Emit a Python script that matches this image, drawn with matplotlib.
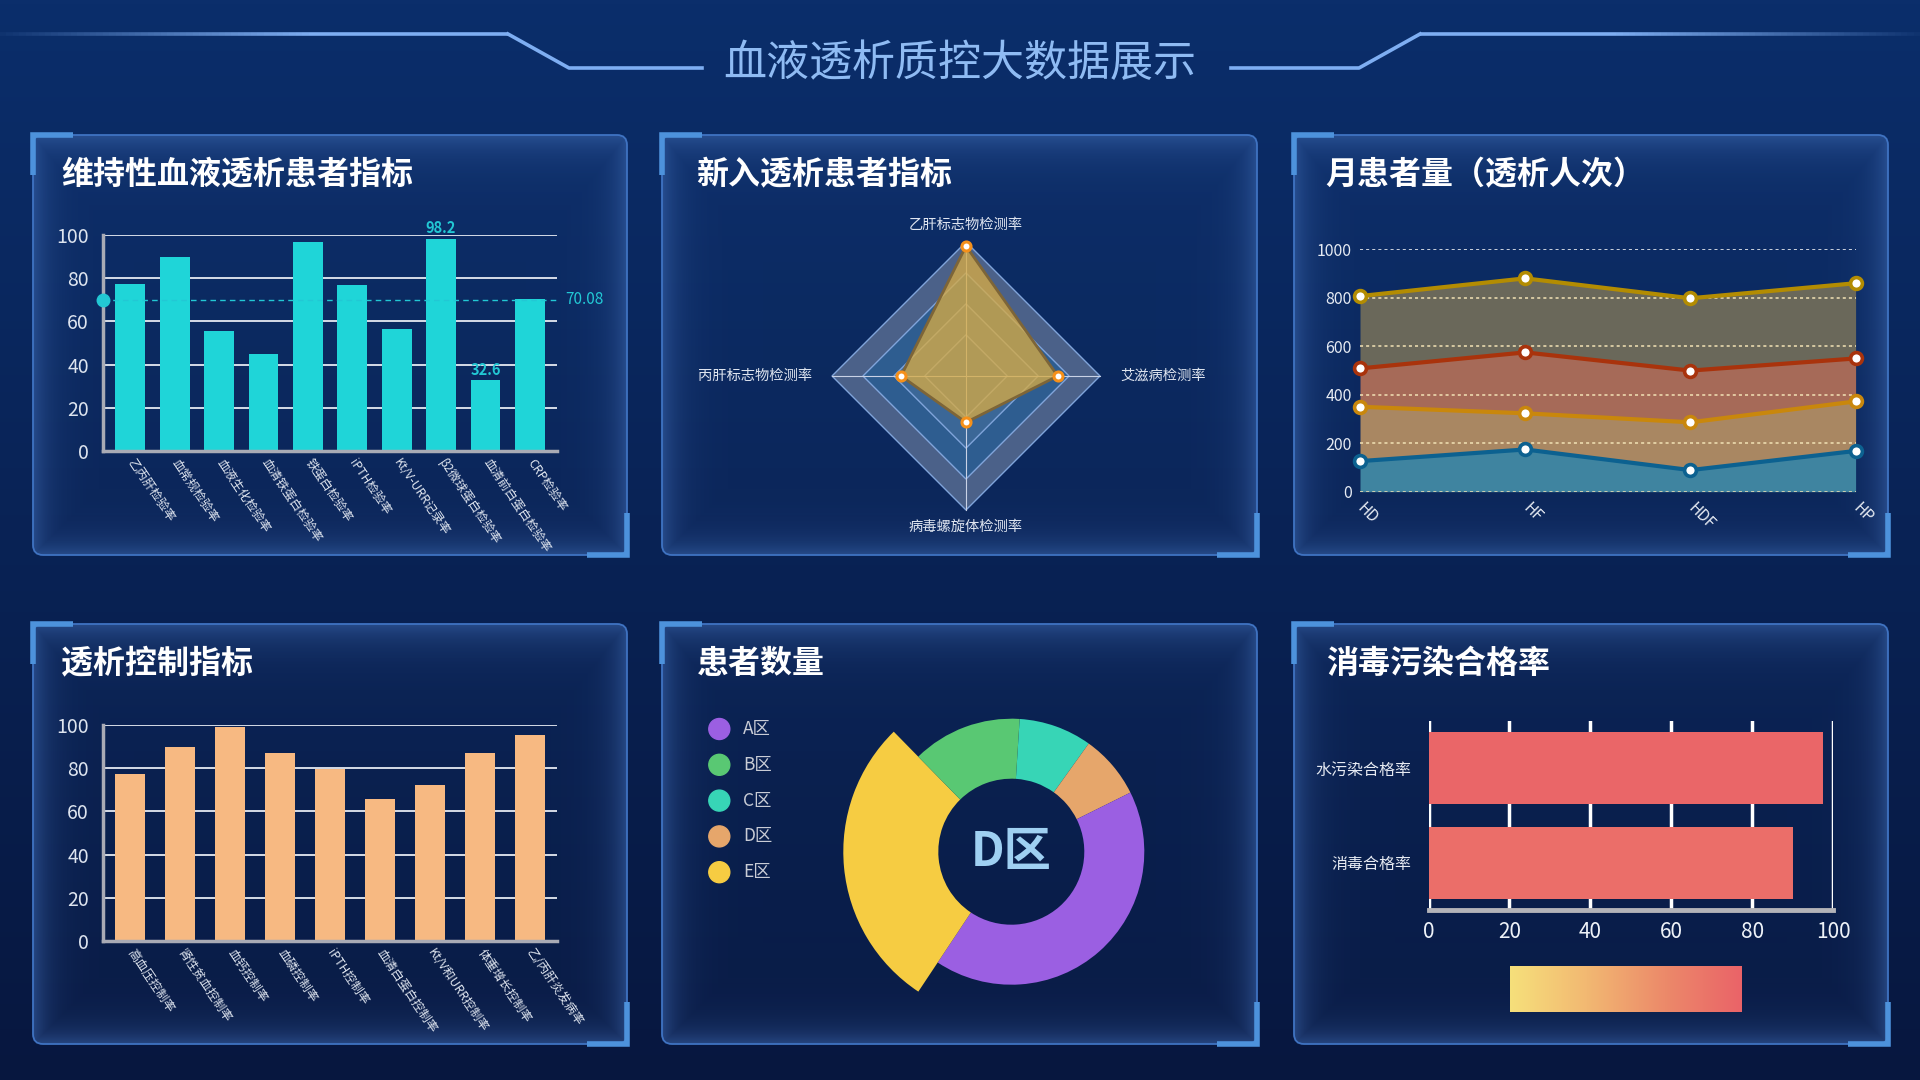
import numpy as np
import matplotlib
matplotlib.use('Agg')
import matplotlib.pyplot as plt
from matplotlib.patches import FancyBboxPatch, Circle, Polygon
from matplotlib.colors import LinearSegmentedColormap, to_rgb
from matplotlib.collections import LineCollection

plt.rcParams['font.family'] = ['Noto Sans CJK SC', 'DejaVu Sans']
plt.rcParams['axes.unicode_minus'] = False

# ---------------- data ----------------
main_title = '血液透析质控大数据展示'
panel_titles = ['维持性血液透析患者指标', '新入透析患者指标', '月患者量（透析人次）',
                '透析控制指标', '患者数量', '消毒污染合格率']

maint_labels = ['乙丙肝检验率', '血常规检验率', '血液生化检验率', '血清铁蛋白检验率', '铁蛋白检验率',
                'iPTH检验率', 'Kt/V-URR记录率', 'β2微球蛋白检验率', '血清前白蛋白检验率', 'CRP检验率']
maint_values = [77.6, 90.1, 55.8, 45.1, 97.0, 77.1, 56.7, 98.2, 32.6, 70.6]

radar_labels = ['乙肝标志物检测率', '艾滋病检测率', '病毒螺旋体检测率', '丙肝标志物检测率']
radar_values = [126, 89, 45, 63]
radar_max = 130
radar_levels = [40, 70, 100, 130]

month_cats = ['HD', 'HF', 'HDF', 'HP']
month_s1 = [126, 174, 89, 168]
month_s2 = [224, 149, 197, 204]
month_s3 = [158, 251, 213, 177]
month_s4 = [298, 305, 298, 310]

ctrl_labels = ['高血压控制率', '肾性贫血控制率', '血钙控制率', '血磷控制率', 'iPTH控制率',
               '血清白蛋白控制率', 'Kt/V和URR控制率', '体重增长控制率', '乙/丙肝炎发病率']
ctrl_values = [77.4, 89.9, 99.2, 87.2, 79.7, 65.8, 72.3, 87.2, 95.5]

zones = ['A区', 'B区', 'C区', 'D区', 'E区']
zone_values = [375, 120, 80, 70, 255]
zone_draw_order = [2, 3, 0, 4, 1]
zone_highlight = 4
zone_center_label = 3

dis_labels = ['消毒合格率', '水污染合格率']
dis_values = [90.0, 97.4]

# ---------------- figure ----------------
W, H = 1920, 1080
fig = plt.figure(figsize=(19.2, 10.8), dpi=100)


def add_px_axes(x0, y0, x1, y1, **kw):
    return fig.add_axes([x0 / W, 1 - y1 / H, (x1 - x0) / W, (y1 - y0) / H], **kw)


bg = fig.add_axes([0, 0, 1, 1])
bg.axis('off')
g = np.linspace(0, 1, 256)[:, None, None]
top_c = np.array(to_rgb('#0b2e6b'))
bot_c = np.array(to_rgb('#07173f'))
bg.imshow(top_c * (1 - g) + bot_c * g, extent=(0, W, H, 0), aspect='auto', zorder=0)

# title decoration lines
line_c = '#7eaef2'
bg.plot([508, 569, 702], [34, 68, 68], color=line_c, lw=2.6, zorder=3)
bg.plot([1231, 1359, 1420], [68, 68, 34], color=line_c, lw=2.6, zorder=3)
xs = np.linspace(0, 508, 80)
segs = [[(xs[i], 34), (xs[i + 1], 34)] for i in range(len(xs) - 1)]
al = np.clip(np.linspace(0.05, 1.6, len(segs)), 0, 1)
cols = [(*to_rgb(line_c), a) for a in al]
bg.add_collection(LineCollection(segs, colors=cols, lw=2.6, zorder=3))
xs = np.linspace(1420, 1920, 80)
segs = [[(xs[i], 34), (xs[i + 1], 34)] for i in range(len(xs) - 1)]
cols = [(*to_rgb(line_c), a) for a in al[::-1]]
bg.add_collection(LineCollection(segs, colors=cols, lw=2.6, zorder=3))
bg.text(960, 64, main_title, fontsize=31, color='#8fbbf3', ha='center', va='center', zorder=4)

# panels
col_x = [(33, 627), (662, 1257), (1294, 1888)]
row_y = [(135, 555), (624, 1044)]
title_off = [28, 34, 31, 28, 35, 32]


def panel(x0, y0, x1, y1, title, toff):
    w = int(x1 - x0)
    h = int(y1 - y0)
    X, Y = np.meshgrid(np.arange(w) + 0.5, np.arange(h) + 0.5)
    d = np.minimum.reduce([X, w - X, Y * 0.8, h - Y])
    a = 0.55 * np.exp(-d / 16) + 0.05
    r = 10
    cx = np.clip(X, r, w - r)
    cy = np.clip(Y, r, h - r)
    a[np.hypot(X - cx, Y - cy) > r] = 0
    rgba = np.zeros((h, w, 4))
    rgba[..., :3] = to_rgb('#3d68b0')
    rgba[..., 3] = a
    bg.imshow(rgba, extent=(x0, x1, y1, y0), aspect='auto', zorder=1, interpolation='bilinear')
    bg.add_patch(FancyBboxPatch((x0, y0), w, h, boxstyle='round,pad=0,rounding_size=10',
                                fc='none', ec='#3f73c2', lw=1.3, zorder=2))
    bc = '#4d92dc'
    bg.plot([x0 + 40, x0, x0], [y0, y0, y0 + 40], color=bc, lw=4, zorder=3,
            solid_joinstyle='miter', solid_capstyle='butt')
    bg.plot([x1 - 40, x1, x1], [y1, y1, y1 - 42], color=bc, lw=4, zorder=3,
            solid_joinstyle='miter', solid_capstyle='butt')
    bg.text(x0 + toff, y0 + 40, title, fontsize=23, fontweight='bold', color='white',
            va='center', ha='left', zorder=4)


k = 0
for (y0, y1) in row_y:
    for (x0, x1) in col_x:
        panel(x0, y0, x1, y1, panel_titles[k], title_off[k])
        k += 1


# ---------------- bar panels ----------------
def bar_panel(ax, labels, vals, color, width, xpad):
    x = np.arange(len(vals))
    ax.bar(x, vals, width, color=color, zorder=3)
    ax.set_xlim(-xpad, len(vals) - 1 + xpad)
    ax.set_ylim(0, 100)
    ax.set_yticks(np.arange(0, 101, 20))
    ax.yaxis.grid(True, color='#e6eaf2', lw=1.3)
    ax.set_axisbelow(True)
    ax.set_facecolor('none')
    for s in ['top', 'right']:
        ax.spines[s].set_visible(False)
    for s in ['left', 'bottom']:
        ax.spines[s].set_color('#a9abb5')
        ax.spines[s].set_linewidth(2.5)
        ax.spines[s].set_zorder(4)
    ax.tick_params(axis='y', length=0, labelsize=14, labelcolor='#dde4ef', pad=10)
    ax.tick_params(axis='x', length=0, pad=7)
    ax.set_xticks(x)
    ax.set_xticklabels(labels, rotation=-56, ha='left', va='center', rotation_mode='anchor',
                       fontsize=8.8, color='#dfe5ef')
    return x


ax1 = add_px_axes(102.7, 235.3, 557.4, 450.7)
bar_panel(ax1, maint_labels, maint_values, '#1fd5d8', 0.67, 0.62)
mv = np.array(maint_values)
mean = mv.mean()
ax1.axhline(mean, color='#22c8d4', ls=(0, (4, 3)), lw=1.0, zorder=4)
ax1.plot([ax1.get_xlim()[0]], [mean], 'o', color='#22c8d4', ms=9, clip_on=False, zorder=5)
ax1.annotate(f'{mean:.2f}', xy=(1, mean), xycoords=('axes fraction', 'data'), xytext=(6, 0),
             textcoords='offset points', va='center', ha='left', color='#22c8d4', fontsize=11)
for i in [int(mv.argmax()), int(mv.argmin())]:
    ax1.annotate(f'{mv[i]:g}', xy=(i, mv[i]), xytext=(0, 2), textcoords='offset points',
                 ha='center', va='bottom', color='#22c8d4', fontsize=10.5, fontweight='bold',
                 annotation_clip=False)

ax4 = add_px_axes(102.7, 725.3, 557.4, 940.7)
bar_panel(ax4, ctrl_labels, ctrl_values, '#f7b982', 0.6, 0.55)

# ---------------- radar ----------------
cx, cy, R = 966, 376, 134
axr = add_px_axes(cx - 200, cy - 200, cx + 200, cy + 200)
axr.set_xlim(-200, 200)
axr.set_ylim(-200, 200)
axr.set_aspect('equal')
axr.axis('off')
n = len(radar_labels)
ang = np.pi / 2 - np.arange(n) * 2 * np.pi / n
scale = R / radar_max
band_cols = ['#4b6189', '#2e5d90', '#3b6797', '#30609a']
for lvl, fc in zip(sorted(radar_levels, reverse=True), band_cols):
    pts = np.column_stack([lvl * scale * np.cos(ang), lvl * scale * np.sin(ang)])
    axr.add_patch(Polygon(pts, closed=True, fc=fc, ec='#80a4da', lw=1.0, zorder=1))
for a in ang:
    axr.plot([0, R * np.cos(a)], [0, R * np.sin(a)], color='#c9d2e6', lw=0.8, zorder=2)
rv = np.array(radar_values) * scale
px = rv * np.cos(ang)
py = rv * np.sin(ang)
axr.add_patch(Polygon(np.column_stack([px, py]), closed=True, fc='#d6ab45', alpha=0.78,
                      ec='none', zorder=3))
axr.plot(np.append(px, px[0]), np.append(py, py[0]), color='#7d6538', lw=2, zorder=4)
axr.plot(px, py, 'o', ms=6.5, mfc='white', mec='#f5901a', mew=2.2, zorder=5)
for lab, a in zip(radar_labels, ang):
    c, s = np.cos(a), np.sin(a)
    if abs(s) > 0.5:
        axr.text(0, (R + 10) * np.sign(s), lab, ha='center', va='bottom' if s > 0 else 'top',
                 fontsize=10.3, color='#dfe5f0')
    else:
        axr.text((R + 20) * np.sign(c), 0, lab, ha='left' if c > 0 else 'right', va='center',
                 fontsize=10.3, color='#dfe5f0')

# ---------------- stacked area ----------------
ax3 = add_px_axes(1360, 249, 1855.6, 491.7)
ax3.set_facecolor('none')
xm = np.arange(len(month_cats))
series = [month_s1, month_s2, month_s3, month_s4]
line_cols = ['#0c6190', '#c9870c', '#a9330c', '#b38c02']
area_cols = ['#3f84a0', '#a98762', '#a66a58', '#6a685a']
cum = np.cumsum(np.array(series, dtype=float), axis=0)
prev = np.zeros(len(month_cats))
for i in range(len(series)):
    ax3.fill_between(xm, prev, cum[i], color=area_cols[i], lw=0, zorder=1)
    prev = cum[i]
for i in range(len(series)):
    ax3.plot(xm, cum[i], color=line_cols[i], lw=3, zorder=3, marker='o', ms=8.5,
             mfc='white', mec=line_cols[i], mew=2.6, clip_on=False)
ax3.set_xlim(0, len(month_cats) - 1)
ax3.set_ylim(0, 1000)
ax3.set_yticks(np.arange(0, 1001, 200))
for yv in np.arange(0, 1001, 200):
    ax3.axhline(yv, color='white' if yv == 1000 else '#f2e2b5', ls=(0, (2, 2)), lw=1.1, zorder=2)
for s in ax3.spines.values():
    s.set_visible(False)
ax3.tick_params(axis='y', length=0, labelsize=11.5, labelcolor='#e6ebf3', pad=6)
ax3.tick_params(axis='x', length=0, pad=10)
ax3.set_xticks(xm)
ax3.set_xticklabels(month_cats, rotation=-45, ha='left', va='center', rotation_mode='anchor',
                    fontsize=11, color='#e6ebf3')

# ---------------- donut ----------------
dcx, dcy = 1011.3, 851.7
axd = add_px_axes(dcx - 190, dcy - 190, dcx + 190, dcy + 190)
zone_cols = ['#9b5fe2', '#59c873', '#37d5b6', '#e6a66b', '#f6cc42']
ordered_vals = [zone_values[i] for i in zone_draw_order]
ordered_cols = [zone_cols[i] for i in zone_draw_order]
wedges, _ = axd.pie(ordered_vals, colors=ordered_cols, radius=133, startangle=86.4,
                    counterclock=False, wedgeprops=dict(width=60, linewidth=0))
hw = wedges[zone_draw_order.index(zone_highlight)]
hw.set_radius(168)
hw.set_width(168 - 73)
axd.set_xlim(-190, 190)
axd.set_ylim(-190, 190)
axd.set_aspect('equal')
axd.axis('off')
axd.text(0, 0, zones[zone_center_label], ha='center', va='center', fontsize=34,
         fontweight='bold', color='#9fd0f2')
for i, (zn, zc) in enumerate(zip(zones, zone_cols)):
    yy = 729 + i * 35.8
    bg.add_patch(Circle((719.3, yy), 10.5, color=zc, zorder=5))
    bg.text(743, yy, zn, fontsize=12.5, color='#c9ccd6', va='center', ha='left', zorder=5)

# ---------------- horizontal bars ----------------
vm_cmap = LinearSegmentedColormap.from_list('vm', ['#f6e07b', '#f2b872', '#ec8a6a', '#ea6368'])
ax6 = add_px_axes(1428.5, 720.7, 1833.4, 910)
ax6.set_facecolor('none')
yb = np.arange(len(dis_values))
ax6.barh(yb, dis_values, height=0.76, color=[vm_cmap(v / 100) for v in dis_values], zorder=3)
ax6.set_xlim(0, 100)
ax6.set_ylim(-0.5, len(dis_values) - 0.5)
ax6.set_xticks(np.arange(0, 101, 20))
ax6.xaxis.grid(True, color='white', lw=2.5)
ax6.set_axisbelow(True)
for s in ['top', 'right', 'left']:
    ax6.spines[s].set_visible(False)
ax6.spines['bottom'].set_color('#b3b3b8')
ax6.spines['bottom'].set_linewidth(3.5)
ax6.tick_params(axis='x', length=0, labelsize=15, labelcolor='#eef2f8', pad=8)
ax6.tick_params(axis='y', length=0, pad=12)
ax6.set_yticks(yb)
ax6.set_yticklabels(dis_labels, fontsize=11.5, color='#e6eaf2')

axg = add_px_axes(1510, 966, 1741.6, 1011.7)
axg.imshow(np.linspace(0, 1, 256)[None, :], cmap=vm_cmap, aspect='auto')
axg.axis('off')

bg.set_xlim(0, W)
bg.set_ylim(H, 0)

fig.savefig('out.png', dpi=100)
